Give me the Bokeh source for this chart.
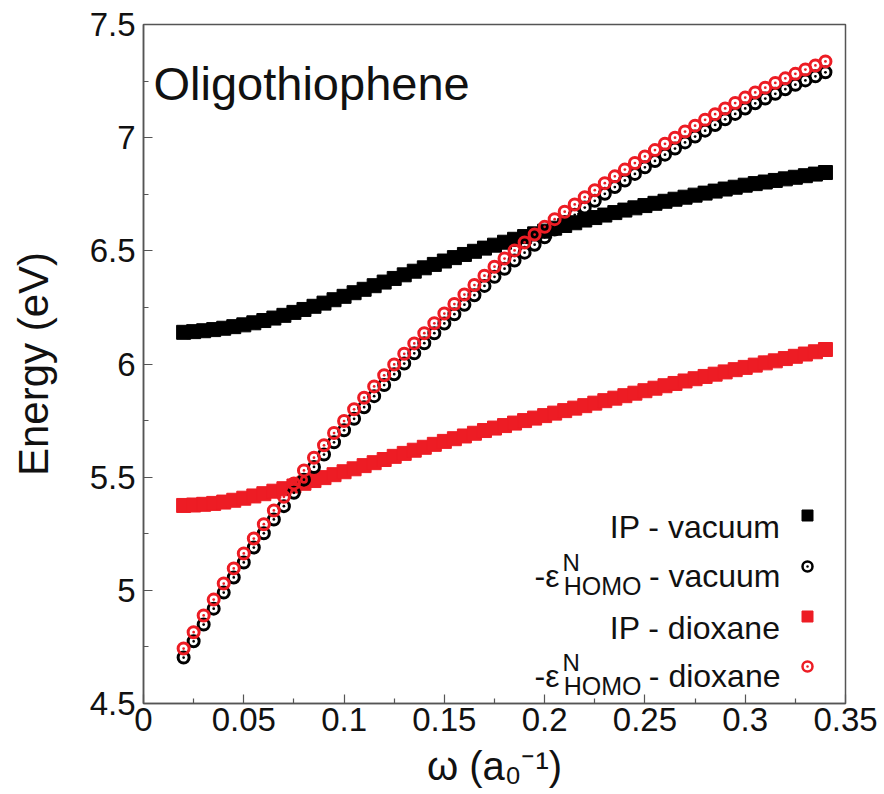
from bokeh.plotting import figure
from bokeh.models import FixedTicker, Label, Range1d
from bokeh.embed import file_html
from bokeh.resources import INLINE

# ---------------- data ----------------
omega = [0.020, 0.025, 0.030, 0.035, 0.040, 0.045, 0.050, 0.055, 0.060, 0.065,
         0.070, 0.075, 0.080, 0.085, 0.090, 0.095, 0.100, 0.105, 0.110, 0.115,
         0.120, 0.125, 0.130, 0.135, 0.140, 0.145, 0.150, 0.155, 0.160, 0.165,
         0.170, 0.175, 0.180, 0.185, 0.190, 0.195, 0.200, 0.205, 0.210, 0.215,
         0.220, 0.225, 0.230, 0.235, 0.240, 0.245, 0.250, 0.255, 0.260, 0.265,
         0.270, 0.275, 0.280, 0.285, 0.290, 0.295, 0.300, 0.305, 0.310, 0.315,
         0.320, 0.325, 0.330, 0.335, 0.340]

ip_vacuum = [6.140, 6.143, 6.147, 6.152, 6.158, 6.165, 6.173, 6.182, 6.192, 6.203,
             6.215, 6.228, 6.241, 6.255, 6.269, 6.284, 6.299, 6.315, 6.330, 6.346,
             6.362, 6.378, 6.394, 6.410, 6.425, 6.440, 6.455, 6.470, 6.484, 6.498,
             6.512, 6.525, 6.538, 6.551, 6.563, 6.575, 6.587, 6.600, 6.612, 6.624,
             6.636, 6.647, 6.658, 6.669, 6.680, 6.690, 6.700, 6.710, 6.719, 6.728,
             6.737, 6.746, 6.755, 6.764, 6.773, 6.781, 6.790, 6.797, 6.804, 6.811,
             6.818, 6.825, 6.832, 6.839, 6.846]

homo_vacuum = [4.703, 4.775, 4.849, 4.919, 4.990, 5.057, 5.123, 5.189, 5.252, 5.313,
               5.372, 5.431, 5.489, 5.545, 5.600, 5.654, 5.707, 5.758, 5.809, 5.858,
               5.907, 5.955, 6.002, 6.047, 6.092, 6.136, 6.179, 6.220, 6.262, 6.304,
               6.345, 6.385, 6.421, 6.457, 6.492, 6.527, 6.560, 6.594, 6.627, 6.659,
               6.691, 6.721, 6.752, 6.782, 6.811, 6.840, 6.869, 6.897, 6.925, 6.952,
               6.979, 7.005, 7.031, 7.056, 7.081, 7.105, 7.129, 7.152, 7.173, 7.194,
               7.214, 7.234, 7.253, 7.271, 7.289]

ip_dioxane = [5.375, 5.377, 5.380, 5.384, 5.390, 5.398, 5.407, 5.417, 5.427, 5.438,
              5.449, 5.461, 5.473, 5.485, 5.498, 5.511, 5.524, 5.537, 5.551, 5.564,
              5.578, 5.592, 5.605, 5.619, 5.632, 5.645, 5.658, 5.670, 5.682, 5.694,
              5.706, 5.717, 5.728, 5.739, 5.750, 5.761, 5.772, 5.783, 5.794, 5.805,
              5.816, 5.827, 5.838, 5.849, 5.860, 5.871, 5.882, 5.893, 5.904, 5.914,
              5.925, 5.935, 5.945, 5.955, 5.965, 5.975, 5.985, 5.995, 6.005, 6.014,
              6.024, 6.034, 6.044, 6.054, 6.064]

homo_dioxane = [4.743, 4.815, 4.889, 4.959, 5.030, 5.097, 5.163, 5.229, 5.292, 5.353,
                5.413, 5.472, 5.530, 5.586, 5.641, 5.695, 5.748, 5.800, 5.851, 5.901,
                5.950, 5.998, 6.045, 6.091, 6.136, 6.180, 6.223, 6.265, 6.307, 6.349,
                6.390, 6.430, 6.466, 6.502, 6.537, 6.572, 6.606, 6.640, 6.673, 6.705,
                6.737, 6.768, 6.799, 6.829, 6.859, 6.888, 6.917, 6.945, 6.973, 7.000,
                7.027, 7.053, 7.079, 7.104, 7.129, 7.153, 7.177, 7.200, 7.221, 7.242,
                7.262, 7.282, 7.301, 7.319, 7.337]

x_ticks = [0.0, 0.05, 0.1, 0.15, 0.2, 0.25, 0.3, 0.35]
x_tick_labels = ["0", "0.05", "0.1", "0.15", "0.2", "0.25", "0.3", "0.35"]
x_minor = [0.025, 0.075, 0.125, 0.175, 0.225, 0.275, 0.325]
y_ticks = [4.5, 5.0, 5.5, 6.0, 6.5, 7.0, 7.5]
y_tick_labels = ["4.5", "5", "5.5", "6", "6.5", "7", "7.5"]
y_minor = [4.75, 5.25, 5.75, 6.25, 6.75, 7.25]

title_text = "Oligothiophene"
y_label = "Energy (eV)"
x_label = "ω (a₀⁻¹)"

# ---------------- layout ----------------
W, H = 884, 794
BL, BR, BT, BB = 143, 39, 24, 91
X0, X1, Y0, Y1 = 0.0, 0.35, 4.5, 7.5
FW, FH = W - BL - BR, H - BT - BB

def xd(px):
    return X0 + (px - BL) / FW * (X1 - X0)

def yd(py):
    return Y1 - (py - BT) / FH * (Y1 - Y0)

FONT = "Liberation Sans"
TXT = "#111111"
BLACK = "#000000"
RED = "#ed1c24"
FRAME = "#555555"

p = figure(width=W, height=H, x_range=Range1d(X0, X1), y_range=Range1d(Y0, Y1),
           output_backend="svg", toolbar_location=None,
           min_border_left=BL, min_border_right=BR, min_border_top=BT, min_border_bottom=BB)
p.background_fill_color = "white"
p.border_fill_color = "white"
p.outline_line_color = FRAME
p.outline_line_width = 1.5
p.xgrid.visible = False
p.ygrid.visible = False

p.xaxis.ticker = FixedTicker(ticks=x_ticks, minor_ticks=x_minor)
p.yaxis.ticker = FixedTicker(ticks=y_ticks, minor_ticks=y_minor)
p.xaxis.major_label_overrides = {t: l for t, l in zip(x_ticks, x_tick_labels)}
p.yaxis.major_label_overrides = {t: l for t, l in zip(y_ticks, y_tick_labels)}

for ax in (p.xaxis[0], p.yaxis[0]):
    ax.axis_line_color = FRAME
    ax.axis_line_width = 1.5
    ax.major_tick_line_color = FRAME
    ax.minor_tick_line_color = FRAME
    ax.major_tick_line_width = 1.2
    ax.minor_tick_line_width = 1.2
    ax.major_tick_in = 9
    ax.major_tick_out = 0
    ax.minor_tick_in = 5
    ax.minor_tick_out = 0
    ax.major_label_text_font = FONT
    ax.major_label_text_font_size = "33px"
    ax.major_label_text_color = TXT
    ax.axis_label_text_font = FONT
    ax.axis_label_text_font_style = "normal"
    ax.axis_label_text_color = TXT

p.xaxis.major_label_standoff = 4
p.yaxis.major_label_standoff = 8
p.yaxis.axis_label = y_label
p.yaxis.axis_label_text_font_size = "42px"
p.yaxis.axis_label_standoff = 30
p.xaxis.axis_label = x_label
p.xaxis.axis_label_text_font_size = "40px"
p.xaxis.axis_label_standoff = 10

# ---------------- data marks ----------------
p.scatter(omega, ip_vacuum, marker="square", size=14, color=BLACK)
p.scatter(omega, ip_dioxane, marker="square", size=14, color=RED)
p.scatter(omega, homo_vacuum, marker="circle_dot", size=11, line_color=BLACK,
          line_width=3, fill_alpha=0)
p.scatter(omega, homo_dioxane, marker="circle_dot", size=11, line_color=RED,
          line_width=3, fill_alpha=0)

# ---------------- texts ----------------
def lab(px, py, text, size, align="left"):
    p.add_layout(Label(x=xd(px), y=yd(py), text=text, text_font=FONT,
                       text_font_size=f"{size}px", text_align=align,
                       text_baseline="alphabetic", text_color=TXT))

lab(153, 83, title_text, 47)

# legend (text right-aligned, key on the right)
LEG_RIGHT = 780
KEY_X = 807
rows = [
    ("IP", "vacuum", 526, "square", BLACK),
    ("eps", "vacuum", 575, "circle_dot", BLACK),
    ("IP", "dioxane", 627, "square", RED),
    ("eps", "dioxane", 675, "circle_dot", RED),
]
for kind, medium, base, marker, col in rows:
    if kind == "IP":
        lab(LEG_RIGHT, base, "IP - " + medium, 32, align="right")
    else:
        lab(LEG_RIGHT, base, "- " + medium, 32, align="right")
        lab(641, base + 10, "HOMO", 25, align="right")
        lab(562, base - 13, "N", 24, align="left")
        lab(559, base, "-ε", 32, align="right")
    if marker == "square":
        p.scatter([xd(KEY_X)], [yd(base - 11)], marker="square", size=11, color=col)
    else:
        p.scatter([xd(KEY_X)], [yd(base - 9)], marker="circle_dot", size=10,
                  line_color=col, line_width=2.5, fill_alpha=0)

open("out.html", "w").write(file_html(p, INLINE))
